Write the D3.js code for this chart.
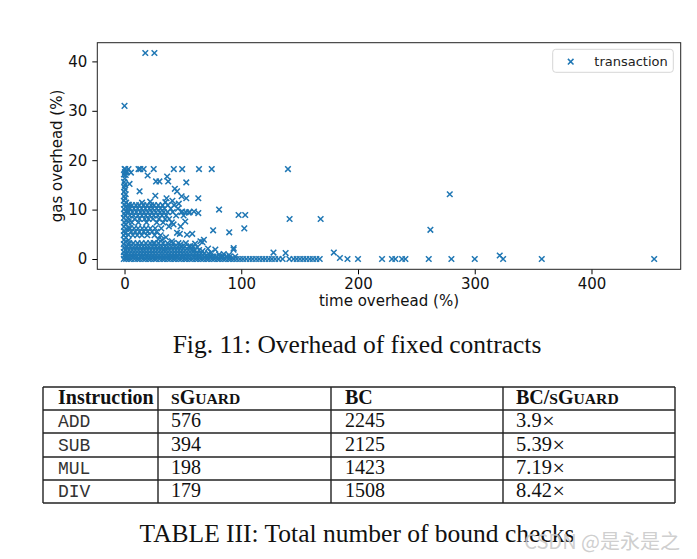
<!DOCTYPE html>
<html>
<head>
<meta charset="utf-8">
<script src="https://cdn.jsdelivr.net/npm/d3@7/dist/d3.min.js"></script>
<style>
  html, body { margin: 0; padding: 0; background: #fff; }
  svg { display: block; }
</style>
</head>
<body>
<svg id="chart" width="697" height="559"></svg>
<script>
// ---------------- DATA ----------------
const xTicks = [0, 100, 200, 300, 400];
const yTicks = [0, 10, 20, 30, 40];
const xLabel = "time overhead (%)";
const yLabel = "gas overhead (%)";
const seriesName = "transaction";

// [time overhead, gas overhead] - transactions with ~0% time overhead
const zeroTime = [
  [-0.6,0.0],[1.0,0.3],[-0.3,0.7],[1.4,1.0],[-0.6,1.4],[0.7,1.8],[-0.2,2.3],[1.5,2.6],[-0.6,3.0],[0.8,3.5],
  [-0.3,3.9],[1.2,4.3],[-0.6,4.8],[0.5,5.2],[-0.2,5.7],[1.4,6.1],[-0.5,6.5],[0.9,7.0],[-0.1,7.4],[1.3,7.9],
  [-0.6,8.3],[0.6,8.8],[-0.2,9.2],[1.1,9.6],[-0.5,10.1],[0.8,10.5],[-0.1,11.0],[1.4,11.4],[-0.6,11.8],[0.5,12.3],
  [-0.2,12.7],[1.0,13.1],[-0.4,13.6],[0.6,14.0],[-0.1,14.5],[0.3,15.0],[-0.3,15.6],[0.2,16.3],[-0.5,17.1],[0.4,17.6],
  [0.1,18.2],[3.5,3.8],[3.3,4.9],[3.6,6.3],[3.4,7.5],[3.5,9.5],[3.3,10.4],[3.6,11.0]
];

// rows of transactions with low gas overhead: gas value and the time values in that row
const lowGasRows = [
  { gas: 0.0, time: [1.4,3.9,6.0,8.7,11.0,13.1,15.8,17.9,20.5,22.6,25.3,27.2,29.9,32.3,34.4,37.0,39.1,41.8,43.9,46.5,48.6,51.2,53.3,55.9,58.0,60.7,62.8,65.4,67.5,70.1,72.2,74.8,76.9,79.6,81.7,84.3,86.4,89.0,91.1,93.7] },
  { gas: 0.5, time: [0.8,3.2,5.9,8.1,10.6,13.4,15.9,18.3,20.8,23.4,25.9,28.2,30.7,33.3,35.8,38.1,40.6,43.2,45.7,48.3,50.6,53.1,55.7,58.4,60.9,63.2,65.8,68.5,71.0,73.6,76.2,78.9,81.5,84.4,87.6,90.3,94.8] },
  { gas: 1.1, time: [1.7,4.4,7.1,9.6,12.3,14.8,17.5,20.2,22.9,25.5,28.1,30.9,33.4,36.2,38.8,41.5,44.1,46.8,49.5,52.2,54.7,57.4,60.1,62.6,65.5,68.3,71.9] },
  { gas: 1.8, time: [1.2,3.9,6.6,9.3,12.0,14.7,17.2,19.9,22.6,25.3,27.9,30.6,33.2,35.9,38.5,41.3,44.0,46.6,49.2,52.0,54.8,57.5,60.4,63.9] },
  { gas: 2.5, time: [2.3,5.0,7.8,10.5,13.1,15.9,18.6,21.2,24.0,26.7,29.4,32.0,34.8,37.4,40.2,42.9,45.6,48.3,51.5,55.2,58.8] },
  { gas: 3.2, time: [4.1,7.5,11.2,14.6,18.3,22.0,25.7,29.2,33.0,36.9,41.4,46.2,52.5] }
];

// rows of the mid clusters (gas 4.5 - 11)
const midGasRows = [
  { gas: 10.9, time: [3.6,6.4,9.8,12.5,16.1,19.4,22.8,25.3,28.9,32.6,37.1,42.5] },
  { gas: 10.2, time: [4.8,8.1,11.3,14.6,17.9,21.2,24.1,27.5,30.8,34.2,39.6,45.8] },
  { gas: 9.5,  time: [3.2,6.9,10.2,13.7,16.8,20.1,23.5,26.9,30.4,33.6,36.9,41.3,48.7,52.4,55.8] },
  { gas: 8.8,  time: [4.5,7.8,11.4,14.9,18.2,21.7,25.0,28.6,32.1,35.7,44.2,50.6] },
  { gas: 8.1,  time: [3.9,8.7,12.8,17.3,20.6,24.4,29.5,34.8,38.2] },
  { gas: 7.4,  time: [6.2,11.9,18.8,27.6,33.1,40.5] },
  { gas: 6.2,  time: [4.7,8.3,11.6,15.2,18.4,22.1,26.3,31.5] },
  { gas: 5.5,  time: [5.6,9.1,12.7,16.3,19.8,23.6,27.4] },
  { gas: 4.8,  time: [7.2,10.9,14.8,19.5,25.8,30.9] }
];

// scattered transactions [time, gas]
const scattered = [
  [32.0,3.9],[40.6,3.6],[47.8,2.9],[56.4,2.6],[24.9,3.2],[45.0,5.3],[53.5,4.9],[33.5,1.9],[65.0,3.6],[68.0,3.9],
  [62.5,2.4],[66.8,1.6],[71.5,2.1],[74.2,1.3],[77.8,1.9],[93.5,2.2],[85.0,1.0],[81.0,0.9],[89.5,0.8],[38.0,6.6],
  [42.0,7.0],[48.0,6.6],[52.0,7.6],[35.5,4.4],[29.0,4.0],[58.0,5.1],[47.4,5.1],[60.5,3.1],[58.3,1.9],
  [19.8,16.9],[36.5,16.7],[37.4,15.7],[27.0,15.7],[29.9,15.7],[52.9,15.5],[4.3,15.2],[12.9,13.7],[43.1,14.2],[45.0,13.7],
  [26.4,12.8],[36.0,12.3],[48.9,12.7],[52.9,12.3],[63.2,12.3],[35.0,11.5],[41.0,11.8],[22.0,11.6],[15.0,11.4],[46.5,11.2],
  [0.6,18.2],[3.4,18.2],[12.0,18.2],[13.5,18.2],[16.4,18.2],[25.0,18.2],[42.2,18.2],[49.4,18.2],[63.8,18.2],[74.7,18.2],
  [140.0,18.2],[2.0,17.6],[5.5,17.5],[1.0,17.0],
  [81.0,10.0],[97.7,8.9],[103.4,8.9],[141.4,8.1],[168.0,8.1],[75.9,5.8],[89.7,5.4],[102.6,6.2],[66.7,3.4],[93.4,1.9],
  [127.6,1.3],[138.0,1.2],[179.3,1.3],[184.5,0.2],[191.0,0.0],[200.0,0.0],[49.4,9.6],[55.0,9.4],[59.5,9.6],[63.2,9.3],
  [17.8,41.7],[25.6,41.7],[0.0,31.0]
];

// long tail of transactions with ~0 gas overhead
const tailZeroGas = [96.2,98.9,101.5,104.3,107.2,109.8,112.6,115.3,118.1,120.7,123.6,126.2,129.0,131.9,135.4,
  141.2,144.8,147.5,150.3,153.1,155.8,158.7,161.4,164.3,167.2,
  220.6,229.1,232.0,237.7,240.6,260.6,280.0,300.0,324.3,357.4,453.7];

const farOutliers = [[321.4,0.7],[278.6,13.1],[262.0,5.9]];

// table
const tableHeader = ["Instruction", "sGuard", "BC", "BC/sGuard"];
const instructions = ["ADD", "SUB", "MUL", "DIV"];
const sguardChecks = [576, 394, 198, 179];
const bcChecks = [2245, 2125, 1423, 1508];
const ratios = ["3.9", "5.39", "7.19", "8.42"];

const figCaption = "Fig. 11: Overhead of fixed contracts";
const tableCaption = "TABLE III: Total number of bound checks";
const watermark = "CSDN @是永是之";

// ---------------- BUILD POINTS ----------------
const points = [];
zeroTime.forEach(d => points.push(d));
lowGasRows.forEach(r => r.time.forEach(t => points.push([t, r.gas])));
midGasRows.forEach(r => r.time.forEach(t => points.push([t, r.gas])));
scattered.forEach(d => points.push(d));
tailZeroGas.forEach(t => points.push([t, 0]));
farOutliers.forEach(d => points.push(d));

// ---------------- DRAW ----------------
const svg = d3.select("#chart");
const plot = { left: 97.3, right: 680.7, top: 42.7, bottom: 269.3 };
const blue = "#1f77b4";
const sans = "'DejaVu Sans', sans-serif";
const serif = "'Liberation Serif', 'Times New Roman', serif";

const pad = (ext) => { const r = ext[1] - ext[0]; return [ext[0] - 0.05 * r, ext[1] + 0.05 * r]; };
const x = d3.scaleLinear().domain(pad(d3.extent(points, d => d[0]))).range([plot.left, plot.right]);
const y = d3.scaleLinear().domain(pad(d3.extent(points, d => d[1]))).range([plot.bottom, plot.top]);

const xAxis = svg.append("g")
  .attr("transform", `translate(0,${plot.bottom})`)
  .call(d3.axisBottom(x).tickValues(xTicks).tickSize(5).tickPadding(4).tickFormat(d3.format("d")));
const yAxis = svg.append("g")
  .attr("transform", `translate(${plot.left},0)`)
  .call(d3.axisLeft(y).tickValues(yTicks).tickSize(5).tickPadding(5).tickFormat(d3.format("d")));
[xAxis, yAxis].forEach(g => {
  g.select(".domain").remove();
  g.selectAll(".tick line").attr("stroke", "#000").attr("stroke-width", 1);
  g.selectAll(".tick text").attr("font-family", sans).attr("font-size", 15).attr("fill", "#111");
});

const xMark = "M-2.8,-2.8L2.8,2.8M-2.8,2.8L2.8,-2.8";
const marks = svg.append("g");
marks.selectAll("path").data(points).join("path")
  .attr("d", xMark)
  .attr("transform", d => `translate(${x(d[0])},${y(d[1])})`)
  .attr("fill", "none").attr("stroke", blue).attr("stroke-width", 1.5);

svg.append("rect")
  .attr("x", plot.left).attr("y", plot.top)
  .attr("width", plot.right - plot.left).attr("height", plot.bottom - plot.top)
  .attr("fill", "none").attr("stroke", "#222").attr("stroke-width", 1);

svg.append("text")
  .attr("x", (plot.left + plot.right) / 2).attr("y", 306)
  .attr("text-anchor", "middle").attr("font-family", sans).attr("font-size", 15).attr("fill", "#111")
  .text(xLabel);
svg.append("text")
  .attr("transform", `translate(62,${(plot.top + plot.bottom) / 2}) rotate(-90)`)
  .attr("text-anchor", "middle").attr("font-family", sans).attr("font-size", 15).attr("fill", "#111")
  .text(yLabel);

// legend
const lg = svg.append("g");
lg.append("rect").attr("x", 552.7).attr("y", 49.3).attr("width", 120.6).attr("height", 23)
  .attr("rx", 3).attr("fill", "#fff").attr("fill-opacity", 0.8).attr("stroke", "#d6d6d6").attr("stroke-width", 1);
lg.append("path").attr("d", xMark).attr("transform", "translate(570.7,61.7)")
  .attr("fill", "none").attr("stroke", blue).attr("stroke-width", 1.5);
lg.append("text").attr("x", 594.3).attr("y", 66.3).attr("font-family", sans).attr("font-size", 13).attr("fill", "#222")
  .text(seriesName);

// figure caption
svg.append("text").attr("x", 357).attr("y", 353).attr("text-anchor", "middle")
  .attr("font-family", serif).attr("font-size", 25.5).attr("fill", "#111").text(figCaption);

// table
const colX = [43, 158, 331, 503, 675];
const rowY = [387, 410, 433, 457, 480, 503];
const tg = svg.append("g");
colX.forEach(cx => tg.append("line").attr("x1", cx).attr("x2", cx).attr("y1", rowY[0]).attr("y2", rowY[rowY.length-1])
  .attr("stroke", "#222").attr("stroke-width", 1.4));
rowY.forEach(ry => tg.append("line").attr("x1", colX[0]).attr("x2", colX[colX.length-1]).attr("y1", ry).attr("y2", ry)
  .attr("stroke", "#222").attr("stroke-width", 1.4));

function smallCaps(textSel, str, base) {
  let buf = "", lower = null;
  const flush = () => {
    if (!buf) return;
    textSel.append("tspan").attr("font-size", lower ? base * 0.78 : base).text(buf.toUpperCase());
    buf = "";
  };
  for (const ch of str) {
    const isLower = ch !== ch.toUpperCase();
    if (lower !== null && isLower !== lower) flush();
    lower = isLower; buf += ch;
  }
  flush();
}
const padX = [15, 13, 14, 13];
const hdrBase = rowY[1] - 6;
tableHeader.forEach((h, i) => {
  const t = tg.append("text").attr("x", colX[i] + padX[i]).attr("y", hdrBase)
    .attr("font-family", serif).attr("font-weight", "bold").attr("font-size", 20).attr("fill", "#111");
  if (i === 0) t.text(h); else smallCaps(t, h, 20);
});
instructions.forEach((ins, r) => {
  const base = rowY[r + 2] - 6;
  tg.append("text").attr("x", colX[0] + padX[0]).attr("y", base)
    .attr("font-family", "'Liberation Mono', monospace").attr("font-size", 18).attr("fill", "#333").text(ins);
  [sguardChecks[r], bcChecks[r]].forEach((v, c) => {
    tg.append("text").attr("x", colX[c + 1] + padX[c + 1]).attr("y", base)
      .attr("font-family", serif).attr("font-size", 20).attr("fill", "#111").text(v);
  });
  const rt = tg.append("text").attr("x", colX[3] + padX[3]).attr("y", base)
    .attr("font-family", serif).attr("font-size", 20.5).attr("fill", "#111");
  rt.append("tspan").text(ratios[r]);
  rt.append("tspan").attr("font-size", 22).attr("dx", 0.5).attr("dy", 1).text("×");
});

svg.append("text").attr("x", 357).attr("y", 542).attr("text-anchor", "middle")
  .attr("font-family", serif).attr("font-size", 25.5).attr("fill", "#111").text(tableCaption);

svg.append("text").attr("x", 680).attr("y", 549).attr("text-anchor", "end")
  .attr("font-family", "'Noto Sans CJK SC', 'Noto Sans', sans-serif").attr("font-size", 20)
  .attr("fill", "#c9c9c9").attr("fill-opacity", 0.9)
  .text(watermark);
</script>
</body>
</html>
